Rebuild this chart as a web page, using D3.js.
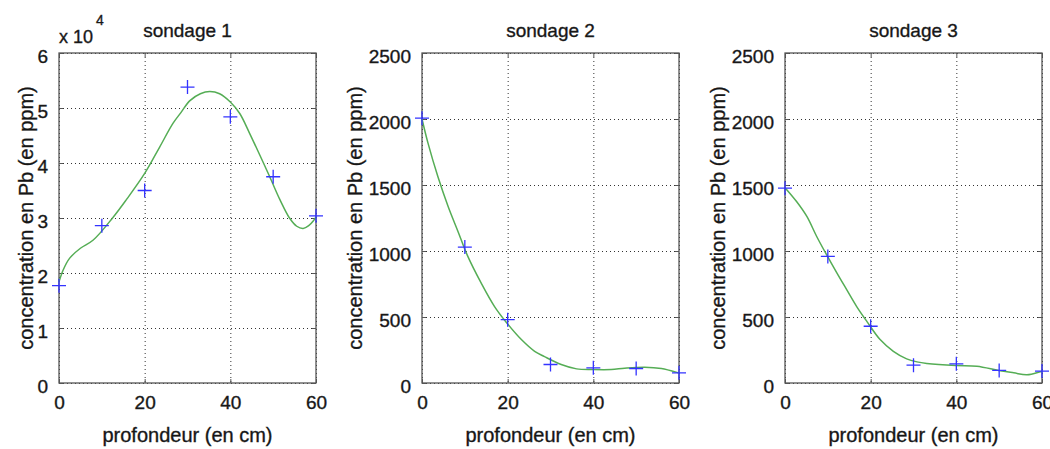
<!DOCTYPE html>
<html>
<head>
<meta charset="utf-8">
<script src="https://cdn.jsdelivr.net/npm/d3@7"></script>
<style>
  body { margin: 0; background: #fff; }
  svg { display: block; font-family: "Liberation Sans", Arial, Helvetica, sans-serif; }
  text { stroke: #222; stroke-width: 0.35; }
  .tick text { fill: #151515; }
  .grid line { stroke: #333; stroke-dasharray: 1,3; }
  .grid .domain { display: none; }
</style>
</head>
<body>
<svg id="chart" width="1050" height="449"></svg>
<script>
// depths of the samples (cm)
var depths = [0, 10, 20, 30, 40, 50, 60];

// measured Pb concentration (ppm)
var sondage1 = [17700, 28600, 35000, 53800, 48400, 37500, 30400];
var sondage2 = [2006, 1030, 480, 140, 115, 110, 77];
var sondage3 = [1476, 959, 430, 135, 145, 95, 90];

// fitted curves
var fit1X = [0, 1, 2.5, 5, 8, 12.5, 15.7, 20, 23.5, 26.6, 28.5, 30.5, 33, 35.2, 37.5, 40, 42.2, 44.5, 46.9, 49.2, 51.6, 53.9, 55.5, 57, 58.3, 59.4, 60];
var fit1Y = [18400, 20600, 22700, 24500, 26000, 30000, 33300, 38100, 42900, 47200, 49200, 51300, 52600, 53000, 52600, 51100, 49000, 45400, 41400, 37500, 33300, 29900, 28500, 28100, 28600, 29500, 30200];
var fit2X = [0, 1.4, 3.7, 6.1, 8.4, 10.7, 13.8, 16.9, 19.8, 23.2, 26.3, 28.6, 32.5, 36.1, 39.8, 44.2, 47.3, 52, 55.9, 59.8, 60];
var fit2Y = [2000, 1817, 1564, 1337, 1148, 959, 758, 581, 455, 329, 240, 200, 140, 107, 102, 102, 112, 120, 110, 78, 76];
var fit3X = [0, 2.7, 5.1, 7.4, 9.7, 12.1, 14.4, 16.7, 19.1, 22.2, 25.3, 28.4, 30.8, 33.1, 39.9, 44.8, 49.9, 53.4, 56.5, 59.6, 60];
var fit3Y = [1480, 1375, 1262, 1110, 972, 834, 707, 581, 467, 329, 240, 183, 160, 148, 132, 127, 95, 77, 62, 85, 88];

// tick labels
var xTicks = [0, 20, 40, 60];
var yTicks1 = [0, 10000, 20000, 30000, 40000, 50000, 60000];
var yTicks23 = [0, 500, 1000, 1500, 2000, 2500];

var titles = ["sondage 1", "sondage 2", "sondage 3"];
var xLabel = "profondeur (en cm)";
var yLabel = "concentration en Pb (en ppm)";

var panels = [
  { title: titles[0], pts: sondage1, fx: fit1X, fy: fit1Y, yMax: 60000, yTicks: yTicks1, fmt: function(d) { return d / 10000; }, left: 59, labelOff: 26, exp: true },
  { title: titles[1], pts: sondage2, fx: fit2X, fy: fit2Y, yMax: 2500, yTicks: yTicks23, fmt: d3.format("d"), left: 422, labelOff: 60 },
  { title: titles[2], pts: sondage3, fx: fit3X, fy: fit3Y, yMax: 2500, yTicks: yTicks23, fmt: d3.format("d"), left: 785, labelOff: 60 }
];

var svg = d3.select("#chart");
var top0 = 53, h = 330, w = 257;

panels.forEach(function(p) {
  var g = svg.append("g").attr("transform", "translate(" + p.left + "," + top0 + ")");

  var x = d3.scaleLinear().domain([0, 60]).range([0, w]);
  var y = d3.scaleLinear().domain([0, p.yMax]).range([h, 0]);

  // dotted grid
  g.append("g").attr("class", "grid")
    .call(d3.axisBottom(x).tickValues(xTicks).tickSize(h).tickFormat(""));
  g.append("g").attr("class", "grid")
    .call(d3.axisLeft(y).tickValues(p.yTicks).tickSize(-w).tickFormat(""));

  // box
  g.append("rect").attr("width", w).attr("height", h)
    .attr("fill", "none").attr("stroke", "#555").attr("stroke-width", 1.3);

  // axes with inward ticks
  var xa = g.append("g").attr("transform", "translate(0," + h + ")")
    .call(d3.axisBottom(x).tickValues(xTicks).tickSizeInner(-4).tickSizeOuter(0).tickPadding(13));
  var ya = g.append("g")
    .call(d3.axisLeft(y).tickValues(p.yTicks).tickFormat(p.fmt).tickSizeInner(-4).tickSizeOuter(0).tickPadding(11));
  g.append("g").call(d3.axisTop(x).tickValues(xTicks).tickSizeInner(-4).tickSizeOuter(0).tickFormat(""));
  g.append("g").attr("transform", "translate(" + w + ",0)")
    .call(d3.axisRight(y).tickValues(p.yTicks).tickSizeInner(-4).tickSizeOuter(0).tickFormat(""));
  g.selectAll(".domain").filter(function() { return this.parentNode.getAttribute("class") !== "grid"; }).remove();
  g.selectAll(".tick line").filter(function() { return this.parentNode.parentNode.getAttribute("class") !== "grid"; })
    .attr("stroke", "#555");
  xa.selectAll("text").attr("font-size", 19).attr("dy", "0.71em");
  ya.selectAll("text").attr("font-size", 19).attr("dy", "0.5em");

  // fitted curve
  var line = d3.line()
    .x(function(d) { return x(d[0]); })
    .y(function(d) { return y(d[1]); })
    .curve(d3.curveCatmullRom);
  g.append("path")
    .datum(d3.zip(p.fx, p.fy))
    .attr("d", line)
    .attr("fill", "none").attr("stroke", "#55ad55").attr("stroke-width", 1.5);

  // + markers
  var s = 7;
  var m = g.selectAll(".mk").data(d3.zip(depths, p.pts)).enter().append("g")
    .attr("transform", function(d) { return "translate(" + x(d[0]) + "," + y(d[1]) + ")"; });
  m.append("path").attr("d", "M" + (-s) + ",0H" + s + "M0," + (-s) + "V" + s)
    .attr("stroke", "#3333ff").attr("stroke-width", 1.3);

  // title
  g.append("text").attr("x", w / 2).attr("y", -16).attr("text-anchor", "middle")
    .attr("font-size", 19).attr("fill", "#151515").text(p.title);

  // axis labels
  g.append("text").attr("x", w / 2).attr("y", h + 59).attr("text-anchor", "middle")
    .attr("font-size", 20).attr("fill", "#151515").text(xLabel);
  g.append("text").attr("transform", "translate(" + (-p.labelOff) + "," + (h / 2) + ") rotate(-90)")
    .attr("text-anchor", "middle").attr("font-size", 20).attr("fill", "#151515").text(yLabel);

  if (p.exp) {
    var e = g.append("text").attr("x", 0).attr("y", -10).attr("fill", "#151515");
    e.append("tspan").attr("font-size", 18).text("x 10");
    e.append("tspan").attr("font-size", 14).attr("dx", 3).attr("dy", -18).text("4");
  }
});
</script>
</body>
</html>
